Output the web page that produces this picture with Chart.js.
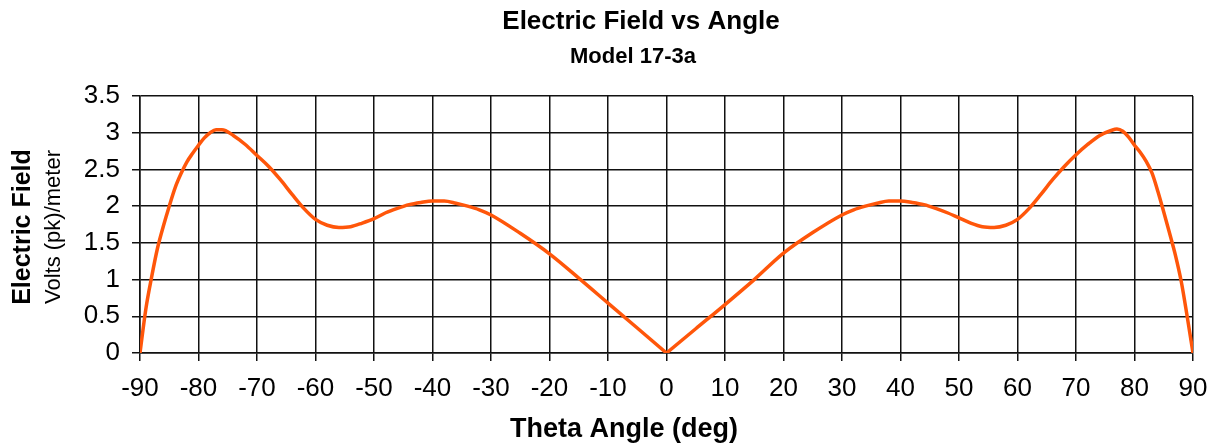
<!DOCTYPE html>
<html>
<head>
<meta charset="utf-8">
<script src="https://cdn.jsdelivr.net/npm/chart.js@4.4.1/dist/chart.umd.min.js"></script>
<style>
  html, body { margin: 0; padding: 0; background: #fff; }
  #wrap { width: 1213px; height: 447px; position: relative; }
</style>
</head>
<body>
<div id="wrap"><canvas id="efield"></canvas></div>
<script>
// Datos (ángulo en grados, campo en V pk/m)
const angles = [-90, -89, -88, -87, -86, -85, -84, -83, -82, -81, -80, -79, -78, -77, -76, -74, -72, -70,
    -68, -66, -64, -62, -60, -58, -56, -54, -52, -50, -48, -46, -44, -42, -40, -38, -36, -34,
    -32, -30, -25, -20, -15, -10, -5, 0,
    5, 10, 15, 20, 25, 30, 32, 34, 36, 38, 40, 42, 44, 46, 48, 50, 52, 54, 56, 58, 60, 62,
    64, 66, 68, 70, 72, 74, 76, 77, 78, 79, 80, 81, 82, 83, 84, 85, 86, 87, 88, 89, 90];
const field = [0, 0.6, 1.04, 1.43, 1.73, 2.0, 2.25, 2.44, 2.6, 2.72, 2.83, 2.93, 3.0, 3.04, 3.04, 2.96, 2.84, 2.69,
    2.54, 2.36, 2.16, 1.97, 1.82, 1.74, 1.71, 1.72, 1.77, 1.83, 1.91, 1.97, 2.02, 2.05, 2.07, 2.07, 2.04, 2.0,
    1.95, 1.88, 1.63, 1.35, 1.02, 0.68, 0.34, 0,
    0.33, 0.66, 1.0, 1.36, 1.64, 1.88, 1.95, 2.0, 2.04, 2.07, 2.07, 2.05, 2.02, 1.97, 1.91, 1.84, 1.77, 1.72,
    1.71, 1.74, 1.82, 1.97, 2.16, 2.36, 2.54, 2.70, 2.84, 2.96, 3.03, 3.05, 3.02, 2.94, 2.83, 2.73,
    2.61, 2.45, 2.2, 1.92, 1.63, 1.33, 0.97, 0.5, 0];

const chartTitle = 'Electric Field vs Angle';
const chartSubtitle = 'Model 17-3a';
const xTitle = 'Theta Angle (deg)';
const yTitle = 'Electric Field';
const yUnits = 'Volts (pk)/meter';

const FONT = '"Liberation Sans", Arial, sans-serif';
const LINE_COLOR = '#ff560a';

// Títulos dibujados en posiciones fijas
const textPlugin = {
    id: 'textLabels',
    afterDraw(chart) {
        const ctx = chart.ctx;
        ctx.save();
        ctx.fillStyle = '#000';
        ctx.textAlign = 'center';
        ctx.textBaseline = 'middle';
        ctx.font = 'bold 26px ' + FONT;
        ctx.fillText(chartTitle, 641, 22);
        ctx.font = 'bold 22px ' + FONT;
        ctx.fillText(chartSubtitle, 633, 57);
        ctx.font = 'bold 27px ' + FONT;
        ctx.fillText(xTitle, 624, 430);
        ctx.translate(22, 227);
        ctx.rotate(-Math.PI / 2);
        ctx.font = 'bold 25px ' + FONT;
        ctx.fillText(yTitle, 0, 1);
        ctx.restore();
        ctx.save();
        ctx.fillStyle = '#000';
        ctx.textAlign = 'center';
        ctx.textBaseline = 'middle';
        ctx.translate(54, 227);
        ctx.rotate(-Math.PI / 2);
        ctx.font = '22px ' + FONT;
        ctx.fillText(yUnits, 0, 0);
        ctx.restore();
    }
};

// Dos mitades para conservar el vértice en 0°
const zeroIdx = angles.indexOf(0);
const points = angles.map((a, i) => ({ x: a, y: field[i] }));
const halfStyle = {
    borderColor: LINE_COLOR,
    borderWidth: 3.5,
    pointRadius: 0,
    cubicInterpolationMode: 'monotone',
    fill: false
};

new Chart(document.getElementById('efield').getContext('2d'), {
    type: 'line',
    data: {
        datasets: [
            Object.assign({ data: points.slice(0, zeroIdx + 1) }, halfStyle),
            Object.assign({ data: points.slice(zeroIdx) }, halfStyle)
        ]
    },
    options: {
        responsive: true,
        maintainAspectRatio: false,
        animation: false,
        layout: { padding: { top: 96, right: 20, left: 0, bottom: 0 } },
        scales: {
            x: {
                type: 'linear',
                min: -90,
                max: 90,
                afterFit: s => {
                    s.height = 94;
                    s.paddingLeft = 0;
                    s.paddingRight = 15;
                },
                ticks: { stepSize: 10, color: '#000', padding: 12, font: { family: FONT, size: 26 }, maxRotation: 0 },
                grid: { color: '#111', lineWidth: 1.5, tickLength: 8 },
                border: { color: '#111', width: 1.5 }
            },
            y: {
                min: 0,
                max: 3.5,
                afterFit: s => { s.width = 140; },
                ticks: {
                    stepSize: 0.5,
                    color: '#000',
                    padding: 12,
                    font: { family: FONT, size: 26 },
                    callback: v => String(v)
                },
                grid: { color: '#111', lineWidth: 1.5, tickLength: 8 },
                border: { color: '#111', width: 1.5 }
            }
        },
        plugins: {
            legend: { display: false },
            tooltip: { enabled: false }
        }
    },
    plugins: [textPlugin]
});
</script>
</body>
</html>
